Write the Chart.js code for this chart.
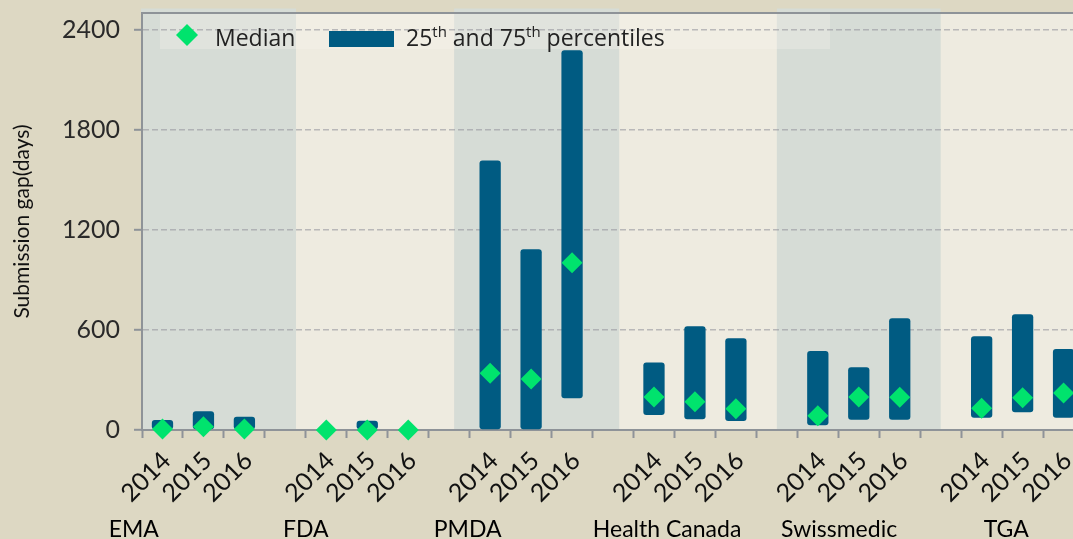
<!DOCTYPE html>
<html>
<head>
<meta charset="utf-8">
<script src="https://cdn.jsdelivr.net/npm/chart.js@4.4.1/dist/chart.umd.min.js"></script>
<style>
  html, body { margin: 0; padding: 0; overflow: hidden; background: #DDD8C3; }
  #wrap { width: 1140px; height: 539px; }
</style>
</head>
<body>
<div id="wrap"><canvas id="chart"></canvas></div>
<script>
// Submission gap per regulator, 2014-2016

// --- Data ---
const regulators = ["EMA", "FDA", "PMDA", "Health Canada", "Swissmedic", "TGA"];
const years = ["2014", "2015", "2016"];

// 25th / 75th percentiles (days), one row per regulator, null = no bar
const p25 = [
  [0, 0, 0],
  [null, 0, null],
  [0, 0, 190],
  [90, 64, 54],
  [28, 62, 62],
  [74, 106, 74]
];
const p75 = [
  [60, 112, 80],
  [null, 56, null],
  [1616, 1084, 2276],
  [404, 622, 550],
  [474, 376, 670],
  [562, 694, 486]
];
const medians = [
  [6, 20, 6],
  [0, 0, 0],
  [340, 306, 1002],
  [198, 170, 128],
  [86, 198, 196],
  [130, 194, 222]
];
const yTicks = [0, 600, 1200, 1800, 2400];
const yMax = 2500;

const legendMedian = "Median";
// [text, superscript?]
const legendRange = [["25", false], ["th", true], [" and 75", false], ["th", true], [" percentiles", false]];

// --- Colours ---
const BAR_COLOR = "#005B82";
const MEDIAN_COLOR = "#00E36D";
const AXIS_COLOR = "#8E9398";
const PLOT_BG = "#EEEBE0";
const BAND_BG = "#D6DCD6";

// --- Build category list: 3 years + 1 empty slot per regulator ---
const labels = [], barData = [], medianData = [];
regulators.forEach((r, i) => {
  years.forEach((y, j) => {
    labels.push(y);
    barData.push(p25[i][j] === null ? null : [p25[i][j], p75[i][j]]);
    medianData.push(medians[i][j]);
  });
  labels.push("");
  barData.push(null);
  medianData.push(null);
});

// shaded bands, in category-index units
const bands = [[-1, 3.26], [7.12, 11.15], [15.0, 19.0]];
// where each regulator name is centred, in category-index units
const groupLabelAt = [-0.7, 3.5, 7.45, 12.32, 16.52, 20.6];

function diamond(ctx, x, y, r) {
  ctx.beginPath();
  ctx.moveTo(x - r, y);
  ctx.lineTo(x, y - r);
  ctx.lineTo(x + r, y);
  ctx.lineTo(x, y + r);
  ctx.closePath();
  ctx.fill();
}

const backdropPlugin = {
  id: "backdrop",
  beforeDraw(chart) {
    const { ctx, chartArea: a, scales } = chart;
    ctx.save();
    ctx.fillStyle = PLOT_BG;
    ctx.fillRect(a.left, a.top, a.right - a.left, a.bottom - a.top);
    ctx.fillStyle = BAND_BG;
    bands.forEach(([from, to]) => {
      const x0 = Math.max(scales.x.getPixelForValue(from), a.left - 1);
      const x1 = scales.x.getPixelForValue(to);
      ctx.fillRect(x0, a.top - 4.5, x1 - x0, a.bottom - a.top + 4.5);
    });
    // legend box
    ctx.fillStyle = "rgba(248,246,238,0.3)";
    ctx.fillRect(a.left + 18, a.top, 670, 36);
    ctx.restore();
  },
  beforeDatasetsDraw(chart) {
    const { ctx, chartArea: a } = chart;
    ctx.save();
    ctx.strokeStyle = AXIS_COLOR;
    ctx.lineWidth = 2;
    ctx.beginPath();
    ctx.moveTo(a.left - 1, a.top);
    ctx.lineTo(a.right, a.top);
    ctx.stroke();
    ctx.restore();
  },
  afterDraw(chart) {
    const { ctx, chartArea: a, scales } = chart;
    ctx.save();
    // legend
    const lx = a.left;
    ctx.fillStyle = MEDIAN_COLOR;
    diamond(ctx, lx + 45, 35, 11);
    ctx.fillStyle = "#222";
    ctx.font = "23px 'Open Sans'";
    ctx.textBaseline = "alphabetic";
    ctx.fillText(legendMedian, lx + 73, 46);
    ctx.fillStyle = BAR_COLOR;
    ctx.fillRect(lx + 187, 31, 65, 16);
    let tx = lx + 264;
    ctx.fillStyle = "#222";
    legendRange.forEach(([t, sup]) => {
      ctx.font = sup ? "15px 'Open Sans'" : "23px 'Open Sans'";
      ctx.fillText(t, tx, sup ? 37 : 46);
      tx += ctx.measureText(t).width;
    });
    // regulator names
    ctx.fillStyle = "#000";
    ctx.font = "23px Lato";
    ctx.textAlign = "center";
    regulators.forEach((r, i) => {
      ctx.fillText(r, scales.x.getPixelForValue(groupLabelAt[i]), 537);
    });
    ctx.restore();
  }
};

new Chart(document.getElementById("chart"), {
  type: "bar",
  data: {
    labels: labels,
    datasets: [
      {
        type: "line",
        label: legendMedian,
        data: medianData,
        showLine: false,
        pointStyle: "rectRot",
        pointRadius: 10.5,
        pointHoverRadius: 10.5,
        backgroundColor: MEDIAN_COLOR,
        borderColor: MEDIAN_COLOR,
        borderWidth: 0,
        clip: false,
        order: 0
      },
      {
        label: "25th and 75th percentiles",
        data: barData,
        backgroundColor: BAR_COLOR,
        borderRadius: 3,
        borderSkipped: false,
        barPercentage: 0.52,
        categoryPercentage: 1,
        order: 1
      }
    ]
  },
  options: {
    responsive: true,
    maintainAspectRatio: false,
    animation: false,
    events: [],
    layout: { padding: { top: 13, right: 15, left: 0, bottom: 0 } },
    plugins: {
      legend: { display: false },
      tooltip: { enabled: false }
    },
    scales: {
      x: {
        afterFit: s => { s.height = 109; s.paddingLeft = 0; s.paddingRight = 0; },
        grid: { drawOnChartArea: false, drawTicks: true, tickLength: 8, tickColor: AXIS_COLOR, tickWidth: 2, offset: true },
        border: { color: AXIS_COLOR, width: 2 },
        ticks: {
          autoSkip: false, maxRotation: 45, minRotation: 45, labelOffset: 4,
          color: "#111", font: { family: "Lato", size: 25 }, padding: 8
        }
      },
      y: {
        min: 0,
        max: yMax,
        afterBuildTicks: s => { s.ticks = yTicks.map(v => ({ value: v })); },
        afterFit: s => { s.width = 142; s.paddingTop = 0; s.paddingBottom = 0; },
        grid: {
          color: ctx => (ctx.tick && ctx.tick.value === 0 ? "rgba(0,0,0,0)" : "rgba(150,150,158,0.6)"),
          lineWidth: 1.6,
          tickLength: 8,
          tickColor: AXIS_COLOR,
          tickWidth: 2,
          tickBorderDash: []
        },
        border: { color: AXIS_COLOR, width: 2, dash: [6, 3] },
        ticks: {
          color: "#2a2a2a", font: { family: "Lato", size: 25 }, padding: 14,
          callback: v => String(v)
        },
        title: {
          display: true, text: "Submission gap(days)", color: "#111",
          font: { family: "Lato", size: 21 }, padding: { top: 10, bottom: 0 }
        }
      }
    }
  },
  plugins: [backdropPlugin]
});
</script>
</body>
</html>
